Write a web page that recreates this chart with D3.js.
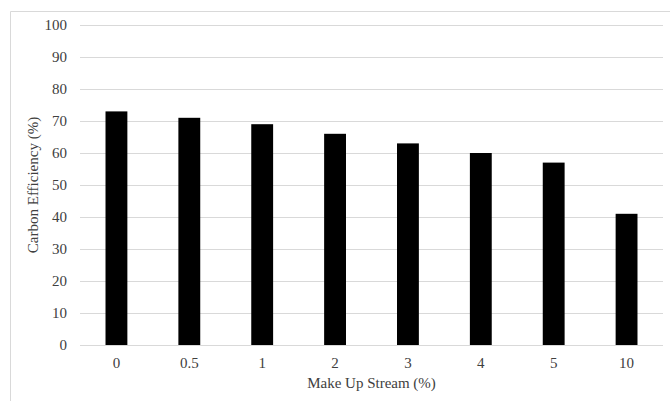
<!DOCTYPE html>
<html>
<head>
<meta charset="utf-8">
<script src="https://cdn.jsdelivr.net/npm/d3@7"></script>
<style>
  body { margin: 0; background: #fff; }
</style>
</head>
<body>
<div class="container"></div>
<script>
// data
var categories = ['0', '0.5', '1', '2', '3', '4', '5', '10'];
var efficiency = [73, 71, 69, 66, 63, 60, 57, 41];
var yTicks = [0, 10, 20, 30, 40, 50, 60, 70, 80, 90, 100];

var FONT = 'Liberation Serif';

var W = 670, H = 401;
var margin = { top: 25, right: 7, bottom: 56, left: 80 },
  width = W - margin.left - margin.right,
  height = H - margin.top - margin.bottom;

var svg = d3
  .select('.container')
  .append('svg')
  .attr('width', W)
  .attr('height', H)
  .attr('font-family', FONT);

// outer frame (top + left visible)
svg.append('path')
  .attr('d', 'M10.5 ' + H + ' V11.5 H' + W)
  .attr('fill', 'none')
  .attr('stroke', '#d9d9d9')
  .attr('stroke-width', 1);

var g = svg.append('g')
  .attr('transform', 'translate(' + margin.left + ',' + margin.top + ')');

var x = d3.scaleBand().domain(categories).range([0, width]).paddingInner(0.7).paddingOuter(0.35);
var y = d3.scaleLinear().domain([0, 100]).range([height, 0]);

// gridlines
g.selectAll('line.grid')
  .data(yTicks)
  .enter()
  .append('line')
  .attr('class', 'grid')
  .attr('x1', 0)
  .attr('x2', width)
  .attr('y1', function (d) { return Math.round(y(d)) + 0.5; })
  .attr('y2', function (d) { return Math.round(y(d)) + 0.5; })
  .attr('stroke', '#d9d9d9')
  .attr('stroke-width', 1);

// bars
g.selectAll('rect.bar')
  .data(efficiency)
  .enter()
  .append('rect')
  .attr('class', 'bar')
  .attr('x', function (d, i) { return x(categories[i]); })
  .attr('width', x.bandwidth())
  .attr('y', function (d) { return y(d); })
  .attr('height', function (d) { return height - y(d); })
  .attr('fill', '#000');

// y axis labels
var yAxis = g.append('g')
  .call(d3.axisLeft(y).tickValues(yTicks).tickSize(0).tickPadding(13))
  .attr('font-family', FONT)
  .attr('font-size', 15);
yAxis.select('.domain').remove();
yAxis.selectAll('text')
  .attr('fill', '#404040')
  .attr('font-family', FONT)
  .attr('font-size', 15);

// x axis labels
var xAxis = g.append('g')
  .attr('transform', 'translate(0,' + height + ')')
  .call(d3.axisBottom(x).tickSize(0).tickPadding(12))
  .attr('font-family', FONT)
  .attr('font-size', 15);
xAxis.select('.domain').remove();
xAxis.selectAll('text')
  .attr('fill', '#404040')
  .attr('font-family', FONT)
  .attr('font-size', 15);

// axis titles
svg.append('text')
  .attr('x', margin.left + width / 2)
  .attr('y', 388)
  .attr('text-anchor', 'middle')
  .attr('fill', '#404040')
  .attr('font-family', FONT)
  .attr('font-size', 15)
  .text('Make Up Stream (%)');

svg.append('text')
  .attr('transform', 'translate(38,' + (margin.top + height / 2) + ') rotate(-90)')
  .attr('text-anchor', 'middle')
  .attr('fill', '#404040')
  .attr('font-family', FONT)
  .attr('font-size', 15)
  .text('Carbon Efficiency (%)');
</script>
</body>
</html>
